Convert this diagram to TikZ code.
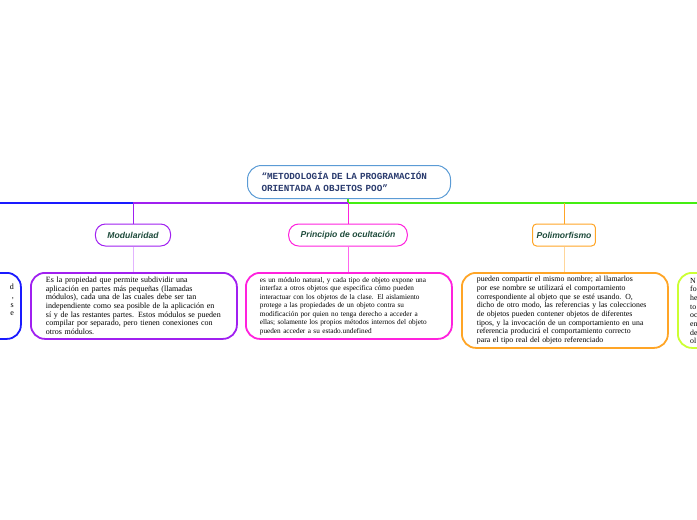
\documentclass[tikz,border=0pt]{standalone}
\usepackage{fontspec}
\setmainfont{Liberation Serif}
\newfontfamily\monof{Liberation Mono}
\newfontfamily\labf{Liberation Sans}
\definecolor{rootblue}{HTML}{5B9BD5}
\definecolor{navy}{HTML}{2A3B6E}
\definecolor{labgreen}{HTML}{1D4A3A}
\definecolor{cblue}{HTML}{1A1AFF}
\definecolor{cpurple}{HTML}{A020F0}
\definecolor{lpurple}{HTML}{E2B4FF}
\definecolor{cmag}{HTML}{FF22DD}
\definecolor{lmag}{HTML}{FF66EE}
\definecolor{cgreen}{HTML}{44EE11}
\definecolor{corange}{HTML}{FFA526}
\definecolor{lorange}{HTML}{FFD69A}
\definecolor{cyg}{HTML}{CCFF33}
\begin{document}
\begin{tikzpicture}[x=1pt,y=-1pt,
  topic/.style={draw, rounded corners=10pt, line width=1pt, minimum height=22pt, inner xsep=12pt, inner ysep=0pt,
    font=\labf\bfseries\itshape\fontsize{8.6}{10}\selectfont, text=labgreen},
  tbox/.style={draw, rounded corners=14pt, line width=1.8pt, anchor=north west, align=left, inner ysep=0pt},
  conn/.style={line width=1.2pt},
  sub/.style={line width=1pt}]
\useasboundingbox (0,0) rectangle (697,520);
\clip (0,0) rectangle (697,520);
% root
\node[draw=rootblue, line width=1pt, rounded corners=14pt, anchor=north west, minimum width=203pt, minimum height=33pt,
  inner xsep=14pt, inner ysep=0pt, text width=175pt, align=left, text=navy, font=\monof\bfseries\fontsize{9.3}{12}\selectfont]
  (root) at (247,165) {“METODOLOGÍA DE LA PROGRAMACIÓN\\ORIENTADA A OBJETOS POO”};
% junctions
\coordinate (j) at (348,203);
\coordinate (jm) at (133,203);
\coordinate (jp) at (564,203);
\coordinate (lend) at (0,203);
\coordinate (rend) at (697,203);
% topics
\node[topic, draw=cpurple] (mod) at (133,235) {Modularidad};
\node[topic, draw=cmag] (prin) at (348,235) {Principio de ocultación};
\node[topic, draw=corange, inner xsep=4pt, rounded corners=4pt] (poly) at (564,235) {Polimorfismo};
% main lines
\draw[conn, cgreen] (root.south -| j) -- (j);
\draw[conn, cgreen] (j) -- (rend);
\draw[conn, cpurple] (j) -- (jm);
\draw[conn, cblue] (jm) -- (lend);
\draw[sub, cpurple] (jm) -- (mod.north);
\draw[sub, cmag] (j) -- (prin.north);
\draw[sub, corange] (jp) -- (poly.north);
% text boxes
\node[tbox, draw=cpurple, minimum width=206pt, minimum height=66pt, inner xsep=15pt, text width=176pt,
  font=\fontsize{8.0}{8.67}\selectfont] (modt) at (30,272)
  {Es la propiedad que permite subdividir una\\
   aplicación en partes más pequeñas (llamadas\\
   módulos), cada una de las cuales debe ser tan\\
   independiente como sea posible de la aplicación en\\
   sí y de las restantes partes. Estos módulos se pueden\\
   compilar por separado, pero tienen conexiones con\\
   otros módulos.};
\node[tbox, draw=cmag, minimum width=206pt, minimum height=66pt, inner xsep=14pt, text width=178pt,
  font=\fontsize{7.25}{8.5}\selectfont] (print) at (245,272)
  {es un módulo natural, y cada tipo de objeto expone una\\
   interfaz a otros objetos que especifica cómo pueden\\
   interactuar con los objetos de la clase. El aislamiento\\
   protege a las propiedades de un objeto contra su\\
   modificación por quien no tenga derecho a acceder a\\
   ellas; solamente los propios métodos internos del objeto\\
   pueden acceder a su estado.undefined};
\node[tbox, draw=corange, minimum width=206pt, minimum height=75pt, inner xsep=15pt, text width=176pt,
  font=\fontsize{7.8}{8.66}\selectfont] (polyt) at (461,272)
  {pueden compartir el mismo nombre; al llamarlos\\
   por ese nombre se utilizará el comportamiento\\
   correspondiente al objeto que se esté usando. O,\\
   dicho de otro modo, las referencias y las colecciones\\
   de objetos pueden contener objetos de diferentes\\
   tipos, y la invocación de un comportamiento en una\\
   referencia producirá el comportamiento correcto\\
   para el tipo real del objeto referenciado};
% partial boxes at edges
\node[tbox, draw=cblue, minimum width=200pt, minimum height=66pt, inner xsep=0pt] (leftbox) at (-180,272) {};
\node[anchor=north east, align=right, inner sep=0pt, font=\fontsize{8.0}{8.67}\selectfont] (leftt) at (14,284) {d\\,\\s\\e};
\node[tbox, draw=cyg, minimum width=200pt, minimum height=75pt, inner xsep=0pt] (rightbox) at (677,272) {};
\node[anchor=north west, align=left, inner sep=0pt, font=\fontsize{7.8}{8.66}\selectfont] (rightt) at (690,278) {N\\fo\\he\\to\\oc\\en\\de\\ol};
% lower connectors
\draw[sub, lpurple] (mod.south) -- (modt.north -| mod.south);
\draw[sub, lmag] (prin.south) -- (print.north -| prin.south);
\draw[sub, lorange] (poly.south) -- (polyt.north -| poly.south);
\end{tikzpicture}
\end{document}
